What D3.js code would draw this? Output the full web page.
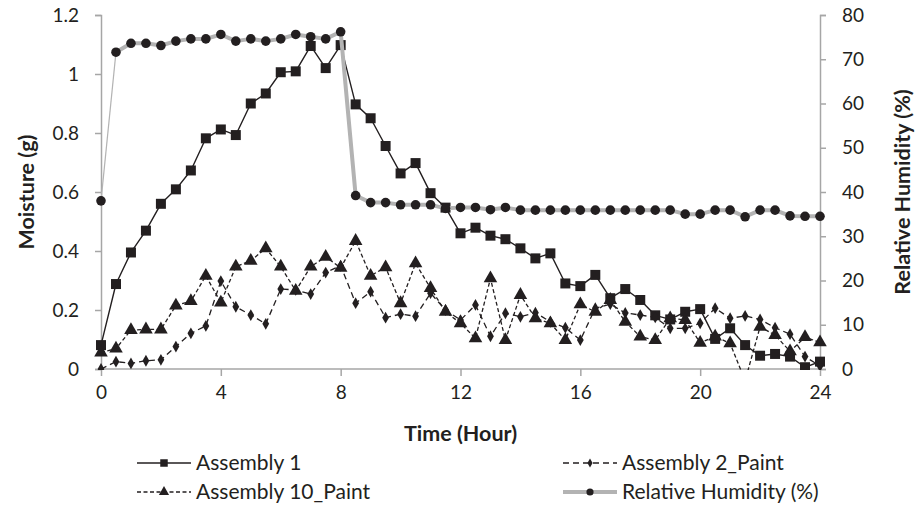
<!DOCTYPE html>
<html><head><meta charset="utf-8">
<script src="https://cdn.jsdelivr.net/npm/d3@7"></script>
<style>body{margin:0;background:#fff} text{font-family:Lato, "Open Sans", sans-serif; fill:#231f20}</style>
</head><body><svg id="c" width="919" height="509"></svg>
<script>
const hours = [0,0.5,1,1.5,2,2.5,3,3.5,4,4.5,5,5.5,6,6.5,7,7.5,8,8.5,9,9.5,10,10.5,11,11.5,12,12.5,13,13.5,14,14.5,15,15.5,16,16.5,17,17.5,18,18.5,19,19.5,20,20.5,21,21.5,22,22.5,23,23.5,24];
const assembly1 = [0.081,0.288,0.395,0.469,0.56,0.609,0.673,0.782,0.812,0.793,0.90,0.934,1.006,1.009,1.095,1.02,1.098,0.897,0.85,0.756,0.663,0.698,0.596,0.547,0.46,0.479,0.452,0.44,0.409,0.375,0.392,0.29,0.281,0.319,0.24,0.271,0.234,0.182,0.168,0.194,0.203,0.102,0.138,0.081,0.045,0.051,0.042,0.006,0.025];
const assembly2 = [0.0,0.025,0.019,0.028,0.031,0.076,0.121,0.146,0.298,0.211,0.183,0.153,0.271,0.268,0.254,0.327,0.35,0.223,0.262,0.174,0.186,0.179,0.257,0.2,0.166,0.217,0.111,0.189,0.177,0.191,0.16,0.14,0.098,0.206,0.22,0.19,0.183,0.175,0.138,0.138,0.155,0.206,0.172,0.18,0.168,0.14,0.118,0.042,0.01];
const assembly10 = [0.056,0.069,0.132,0.134,0.134,0.215,0.23,0.316,0.225,0.347,0.367,0.409,0.347,0.265,0.347,0.38,0.343,0.434,0.316,0.345,0.223,0.358,0.274,0.194,0.155,0.104,0.307,0.098,0.251,0.172,0.155,0.098,0.219,0.194,0.234,0.16,0.11,0.098,0.172,0.166,0.089,0.11,0.087,-0.04,0.143,0.115,0.06,0.108,0.09];
const humidity = [38,71.6,73.6,73.6,73.1,74.1,74.6,74.6,75.6,74.1,74.6,74.1,74.6,75.6,75.1,74.6,76.2,39.2,37.6,37.6,37.1,37.1,37.1,36.3,36.5,36.5,36.0,36.5,35.9,35.9,35.9,35.9,35.9,35.9,35.9,35.9,35.9,35.9,35.9,35.0,35.0,35.9,35.9,34.4,35.9,35.9,34.6,34.5,34.5];
const xTicks = [0,4,8,12,16,20,24];
const leftTicks = [0,0.2,0.4,0.6,0.8,1,1.2];
const rightTicks = [0,10,20,30,40,50,60,70,80];
const seriesNames = ["Assembly 1","Assembly 2_Paint","Assembly 10_Paint","Relative Humidity (%)"];

const svg = d3.select("#c");
const L=101, R=820, T=15, B=369;
const x = d3.scaleLinear().domain([0,24]).range([L,R]);
const yL = d3.scaleLinear().domain([0,1.2]).range([B,T]);
const yR = d3.scaleLinear().domain([0,80]).range([B,T]);
const ink = "#231f20", axisCol = "#a6a6a6";
const fmt = d => String(d);

// axes
const gx = svg.append("g").attr("transform",`translate(0,${B})`)
  .call(d3.axisBottom(x).tickValues(xTicks).tickSize(7).tickPadding(10).tickFormat(d3.format("d")));
const gl = svg.append("g").attr("transform",`translate(${L},0)`)
  .call(d3.axisLeft(yL).tickValues(leftTicks).tickSize(6).tickPadding(16).tickFormat(fmt));
const gr = svg.append("g").attr("transform",`translate(${R},0)`)
  .call(d3.axisRight(yR).tickValues(rightTicks).tickSize(6).tickPadding(16).tickFormat(d3.format("d")));
[gx,gl,gr].forEach(g=>{
  g.select(".domain").attr("stroke",axisCol).attr("stroke-width",1.5);
  g.selectAll(".tick line").attr("stroke",axisCol).attr("stroke-width",1.5);
  g.selectAll(".tick text").style("font-size","19px").attr("fill",ink).style("font-family","Lato, sans-serif");
});
gx.select(".domain").remove();
svg.append("line").attr("x1",L).attr("x2",R).attr("y1",B).attr("y2",B).attr("stroke",axisCol).attr("stroke-width",1.5);

// titles
svg.append("text").attr("x",(L+R)/2).attr("y",441).attr("text-anchor","middle")
  .style("font-size","21.5px").style("font-weight","bold").text("Time (Hour)");
svg.append("text").attr("transform",`translate(34,${(T+B)/2}) rotate(-90)`).attr("text-anchor","middle")
  .style("font-size","21.5px").style("font-weight","bold").text("Moisture (g)");
svg.append("text").attr("transform",`translate(910,${(T+B)/2}) rotate(-90)`).attr("text-anchor","middle")
  .style("font-size","21.5px").style("font-weight","bold").text("Relative Humidity (%)");

svg.append("clipPath").attr("id","clip").append("rect").attr("x",L-20).attr("y",0).attr("width",R-L+40).attr("height",B+1);
const plot = svg.append("g").attr("clip-path","url(#clip)");

const sym = {
  square: d3.symbol().type(d3.symbolSquare).size(100),
  diamond: d3.symbol().type(d3.symbolDiamond).size(40),
  triangle: d3.symbol().type(d3.symbolTriangle).size(80),
  circle: d3.symbol().type(d3.symbolCircle).size(72)
};

function drawSeries(vals, y, opts){
  const pts = hours.map((h,i)=>[x(h), y(vals[i])]);
  const line = d3.line();
  if(opts.firstThin){
    plot.append("path").attr("d",line(pts.slice(0,2))).attr("fill","none").attr("stroke",opts.stroke).attr("stroke-width",1.2);
    plot.append("path").attr("d",line(pts.slice(1))).attr("fill","none").attr("stroke",opts.stroke).attr("stroke-width",opts.width).attr("stroke-linejoin","round");
  } else {
    plot.append("path").attr("d",line(pts)).attr("fill","none").attr("stroke",opts.stroke)
      .attr("stroke-width",opts.width).attr("stroke-dasharray",opts.dash||null).attr("stroke-linejoin","round");
  }
  plot.selectAll(null).data(pts).join("path")
    .attr("transform",d=>`translate(${d[0]},${d[1]})`).attr("d",opts.symbol()).attr("fill",ink);
}
drawSeries(assembly1, yL, {stroke:ink,width:1.4,symbol:sym.square});
drawSeries(assembly2, yL, {stroke:ink,width:1.3,dash:"6,4",symbol:sym.diamond});
drawSeries(assembly10, yL, {stroke:ink,width:1.3,dash:"4,2.5",symbol:sym.triangle});
drawSeries(humidity, yR, {stroke:"#b3b3b3",width:4,symbol:sym.circle,firstThin:true});

// legend
const legend = [
  {name:seriesNames[0],x:137,y:463,stroke:ink,width:1.4,dash:null,symbol:sym.square},
  {name:seriesNames[1],x:563,y:463,stroke:ink,width:1.3,dash:"6,4",symbol:sym.diamond},
  {name:seriesNames[2],x:137,y:492,stroke:ink,width:1.3,dash:"4,2.5",symbol:sym.triangle},
  {name:seriesNames[3],x:563,y:492,stroke:"#b3b3b3",width:4,dash:null,symbol:sym.circle}
];
const lg = svg.selectAll(".lg").data(legend).join("g").attr("transform",d=>`translate(${d.x},${d.y})`);
lg.append("line").attr("x1",0).attr("x2",54).attr("stroke",d=>d.stroke).attr("stroke-width",d=>d.width).attr("stroke-dasharray",d=>d.dash);
lg.append("path").attr("transform","translate(27,0) scale(0.75)").attr("d",d=>d.symbol()).attr("fill",ink);
lg.append("text").attr("x",59).attr("dy","0.35em").style("font-size","21px").text(d=>d.name);
</script></body></html>
